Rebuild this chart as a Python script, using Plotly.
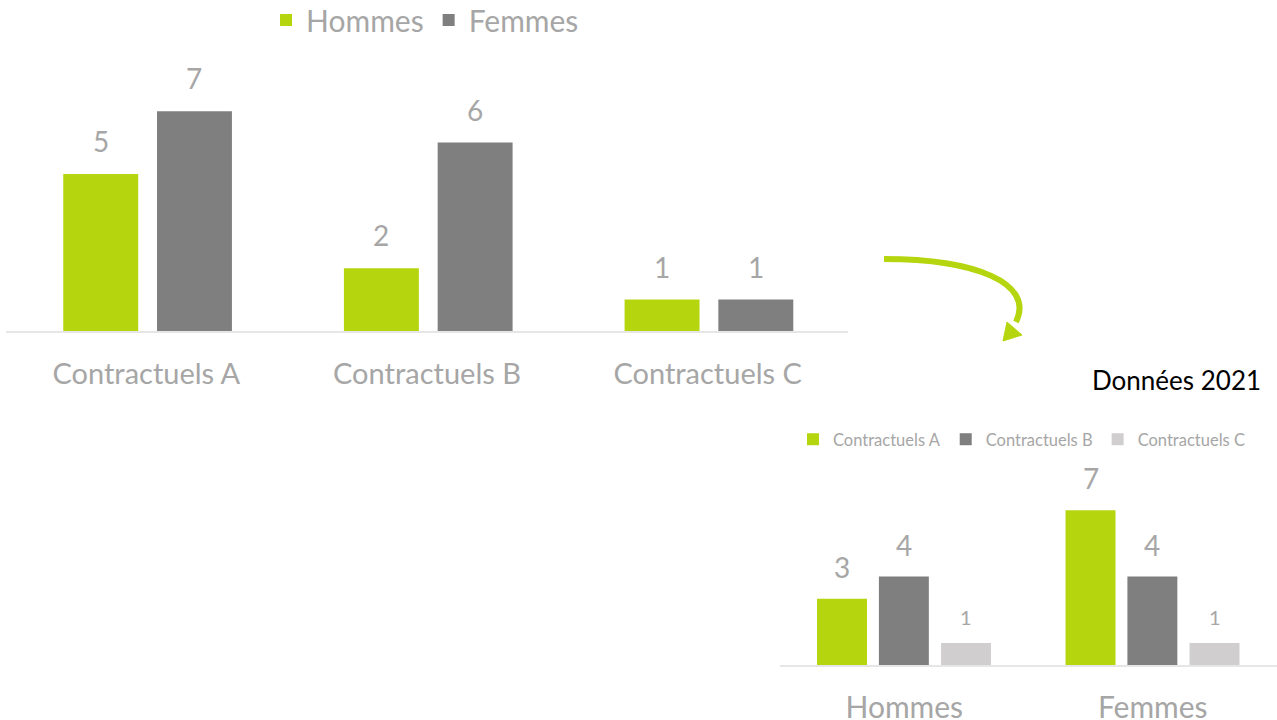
import plotly.graph_objects as go

W, H = 1277, 720

# ---- data ----
main_categories = ["Contractuels A", "Contractuels B", "Contractuels C"]
main_hommes = [5, 2, 1]
main_femmes = [7, 6, 1]

small_categories = ["Hommes", "Femmes"]
small_series_names = ["Contractuels A", "Contractuels B", "Contractuels C"]
small_a = [3, 7]
small_b = [4, 4]
small_c = [1, 1]
small_title = "Données 2021"

# ---- styles ----
GREEN = "#B5D60F"
DARK = "#7F7F7F"
LIGHT = "#D0CECE"
TXT = "#A6A6A6"
AXIS = "#E6E6E6"
FONT = "Lato"


def px(x):
    return x / W


def py(y):
    return 1 - y / H


# geometry (styles)
MAIN_X0, MAIN_X1 = 6, 848
MAIN_CAT_PX = (MAIN_X1 - MAIN_X0) / len(main_categories)
SMALL_X0, SMALL_X1 = 780, 1277
SMALL_CAT_PX = (SMALL_X1 - SMALL_X0) / len(small_categories)

fig = go.Figure()
annotations = []

# main chart
MAIN_W = 0.267
for name, vals, col, off in [("Hommes", main_hommes, GREEN, -0.296),
                             ("Femmes", main_femmes, DARK, 0.038)]:
    fig.add_trace(go.Bar(
        x=main_categories, y=vals, name=name, marker=dict(color=col, line=dict(width=0)),
        width=MAIN_W, offset=off, cliponaxis=False,
        xaxis="x", yaxis="y", legend="legend", hoverinfo="x+y+name"))
    for c, v in zip(main_categories, vals):
        annotations.append(dict(
            x=c, y=v, xref="x", yref="y", text=str(v), showarrow=False,
            xanchor="center", yanchor="bottom",
            xshift=(off + MAIN_W / 2) * MAIN_CAT_PX, yshift=14,
            font=dict(size=28, color=TXT, family=FONT)))

# small chart
SMALL_W = 0.201
for name, vals, col, off, ts, ys in [(small_series_names[0], small_a, GREEN, -0.351, 28, 13),
                                     (small_series_names[1], small_b, DARK, -0.102, 28, 13),
                                     (small_series_names[2], small_c, LIGHT, 0.148, 20, 12)]:
    fig.add_trace(go.Bar(
        x=small_categories, y=vals, name=name, marker=dict(color=col, line=dict(width=0)),
        width=SMALL_W, offset=off, cliponaxis=False,
        xaxis="x2", yaxis="y2", legend="legend2", hoverinfo="x+y+name"))
    for c, v in zip(small_categories, vals):
        annotations.append(dict(
            x=c, y=v, xref="x2", yref="y2", text=str(v), showarrow=False,
            xanchor="center", yanchor="bottom",
            xshift=(off + SMALL_W / 2) * SMALL_CAT_PX, yshift=ys,
            font=dict(size=ts, color=TXT, family=FONT)))

# arrow (curve + head) in pixel-derived paper coordinates
def P(x, y):
    return f"{px(x):.5f},{py(y):.5f}"

curve = f"M {P(884, 259)} C {P(975, 259)} {P(1035, 283)} {P(1016, 322)}"
head = f"M {P(1003, 341)} L {P(1007, 322)} L {P(1022, 335)} Z"

shapes = [
    dict(type="path", xref="paper", yref="paper", path=curve,
         line=dict(color=GREEN, width=6), fillcolor="rgba(0,0,0,0)"),
    dict(type="path", xref="paper", yref="paper", path=head,
         line=dict(color=GREEN, width=1), fillcolor=GREEN),
]

annotations.append(dict(text=small_title, xref="paper", yref="paper", x=px(1263), y=py(380),
                        xanchor="right", yanchor="middle", showarrow=False,
                        font=dict(size=26, color="black", family=FONT)))

fig.update_layout(
    width=W, height=H,
    margin=dict(l=0, r=0, t=0, b=0, autoexpand=False),
    paper_bgcolor="white", plot_bgcolor="white",
    font=dict(family=FONT, color=TXT),
    showlegend=True,
    barmode="overlay",
    xaxis=dict(domain=[px(MAIN_X0), px(MAIN_X1)], showline=True, linecolor=AXIS, linewidth=2,
               showgrid=False, zeroline=False, ticks="outside", ticklen=16,
               tickcolor="rgba(0,0,0,0)", tickfont=dict(size=29, color=TXT, family=FONT),
               fixedrange=True, automargin=False),
    yaxis=dict(domain=[py(331), py(60)], range=[0, 271 / 31.4], visible=False,
               fixedrange=True),
    xaxis2=dict(domain=[px(SMALL_X0), px(SMALL_X1)], anchor="y2", showline=True, linecolor=AXIS,
                linewidth=2, showgrid=False, zeroline=False, ticks="outside", ticklen=15,
                tickcolor="rgba(0,0,0,0)", tickfont=dict(size=30, color=TXT, family=FONT),
                fixedrange=True, automargin=False),
    yaxis2=dict(domain=[py(665), py(455)], range=[0, 210 / 22.1], visible=False,
                anchor="x2", fixedrange=True),
    legend=dict(orientation="h", x=px(266), y=py(-6), xanchor="left", yanchor="top",
                font=dict(size=30, color=TXT, family=FONT), bgcolor="rgba(0,0,0,0)",
                itemclick=False, itemdoubleclick=False),
    legend2=dict(orientation="h", x=px(793), y=py(422), xanchor="left", yanchor="top",
                 font=dict(size=16.5, color=TXT, family=FONT), bgcolor="rgba(0,0,0,0)",
                 itemclick=False, itemdoubleclick=False),
    shapes=shapes,
    annotations=annotations,
)

fig.write_html("out.html", config={"displayModeBar": False},
               post_script="document.body.style.margin='0';document.body.style.padding='0';")
